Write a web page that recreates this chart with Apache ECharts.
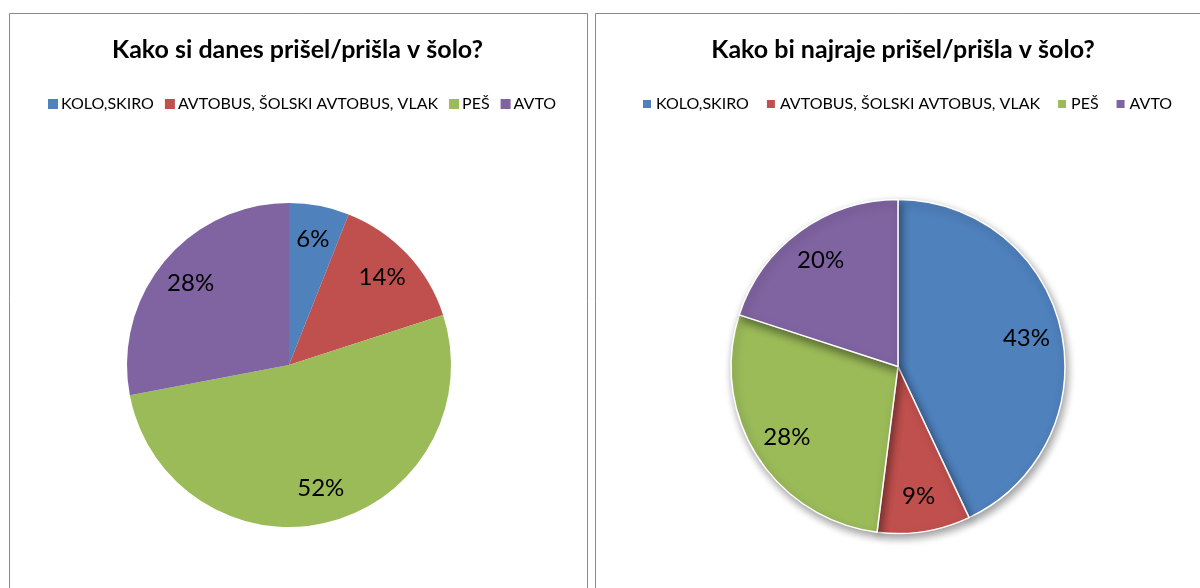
<!DOCTYPE html>
<html>
<head>
<meta charset="utf-8">
<script src="https://cdn.jsdelivr.net/npm/echarts@6/dist/echarts.min.js"></script>
<style>
html,body{margin:0;padding:0;background:#fff;}
#main{width:1200px;height:588px;}
</style>
</head>
<body>
<div id="main"></div>
<script>
const categories = ['KOLO,SKIRO', 'AVTOBUS, ŠOLSKI AVTOBUS, VLAK', 'PEŠ', 'AVTO'];
const todayValues = [6, 14, 52, 28];
const preferredValues = [43, 9, 28, 20];
const titles = ['Kako si danes prišel/prišla v šolo?', 'Kako bi najraje prišel/prišla v šolo?'];
const colors = ['#4F81BD', '#C0504D', '#9BBB59', '#8064A2'];

const FONT = 'Lato';
const LABEL_RATIO = 0.77;

function toData(vals){ return categories.map((n,i)=>({name:n, value:vals[i]})); }

function mainPie(vals, center, r, withBorder){
  return {
    type:'pie', center:center, radius:[0, r], startAngle:90, clockwise:true,
    data: toData(vals), silent:true,
    label:{show:false}, labelLine:{show:false},
    itemStyle: withBorder ? {borderColor:'#fff', borderWidth:1.5, shadowBlur:8, shadowOffsetX:2, shadowOffsetY:4, shadowColor:'rgba(0,0,0,0.4)'} : {borderWidth:0},
    emphasis:{disabled:true}
  };
}
function labelPie(vals, center, r){
  return {
    type:'pie', center:center, radius:[0, r*LABEL_RATIO*2], startAngle:90, clockwise:true,
    data: toData(vals), silent:true, z:5,
    itemStyle:{color:'rgba(0,0,0,0)', borderWidth:0},
    label:{show:true, position:'inside', formatter:'{c}%', color:'#000', fontFamily:FONT, fontSize:24},
    labelLine:{show:false}, emphasis:{disabled:true}
  };
}

const chart = echarts.init(document.getElementById('main'), null, {renderer:'canvas'});
chart.setOption({
  animation:false,
  color: colors,
  graphic:[
    {type:'rect', shape:{x:9.5, y:13.5, width:578, height:600}, style:{fill:'none', stroke:'#8a8a8a', lineWidth:1}, silent:true},
    {type:'rect', shape:{x:595.5, y:13.5, width:620, height:600}, style:{fill:'none', stroke:'#8a8a8a', lineWidth:1}, silent:true},
    {type:'text', x:297.5, y:50, style:{text:titles[0], textAlign:'center', textVerticalAlign:'middle', font:'bold 25px Lato', fill:'#000'}, silent:true},
    {type:'text', x:903, y:50, style:{text:titles[1], textAlign:'center', textVerticalAlign:'middle', font:'bold 25px Lato', fill:'#000'}, silent:true}
  ],
  legend:[
    {data:categories, left:43, top:91, itemWidth:10, itemHeight:10, itemGap:11, icon:'rect', selectedMode:false,
     textStyle:{fontFamily:FONT, fontSize:16, color:'#000', padding:[0,0,0,-2]}},
    {data:categories, left:638, top:91, itemWidth:8, itemHeight:8, itemGap:18, icon:'rect', selectedMode:false,
     textStyle:{fontFamily:FONT, fontSize:16, color:'#000', padding:[0,0,0,0]}}
  ],
  series:[
    mainPie(todayValues, [289, 365], 162, false),
    mainPie(preferredValues, [898, 366.5], 167, true),
    labelPie(todayValues, [289, 365], 162),
    labelPie(preferredValues, [898, 366.5], 167)
  ]
});
</script>
</body>
</html>
